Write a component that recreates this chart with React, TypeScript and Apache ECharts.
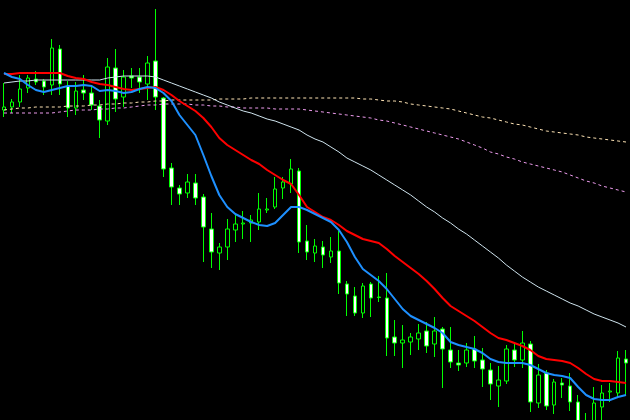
import React, { useEffect, useRef } from "react";
import * as echarts from "echarts";

// Bar labels (one per candle)
const categories: string[] = Array.from({ length: 79 }, (_, i) => `Bar ${i + 1}`);

// Candle values (price in points, e.g. 13310 = 1.3310)
const opens = [
  13310, 13313, 13318, 13332, 13341, 13339, 13335, 13371, 13334, 13312,
  13330, 13327, 13314, 13299, 13352, 13323, 13344, 13343, 13336, 13359,
  13322, 13252, 13232, 13227, 13237, 13223, 13191, 13167, 13173, 13190,
  13196, 13197, 13198, 13210, 13213, 13232, 13236, 13249, 13179, 13167,
  13173, 13163, 13169, 13136, 13124, 13107, 13136, 13123, 13122, 13083,
  13077, 13078, 13081, 13089, 13076, 13091, 13070, 13057, 13057, 13071,
  13060, 13050, 13034, 13039, 13070, 13060, 13076, 13017, 13047, 13015,
  13037, 13034, 13018, 12999, 12995, 13013, 13028, 13027, 13061,
];
const closes = [
  13313, 13318, 13331, 13342, 13338, 13333, 13372, 13336, 13312, 13329,
  13327, 13315, 13300, 13353, 13321, 13343, 13342, 13338, 13357, 13323,
  13251, 13233, 13226, 13238, 13222, 13193, 13168, 13173, 13191, 13196,
  13197, 13200, 13211, 13211, 13231, 13238, 13251, 13178, 13168, 13174,
  13165, 13169, 13137, 13126, 13107, 13134, 13122, 13122.5, 13082, 13077,
  13080, 13083, 13087, 13074, 13089, 13071, 13058, 13055, 13070, 13059,
  13051, 13036, 13040, 13071, 13060, 13077, 13018, 13045, 13014, 13038,
  13035, 13018, 12990, 12988, 13017, 13027, 13029, 13062, 13057,
];
const lows = [
  13303, 13307, 13313, 13327, 13335, 13325, 13325, 13325, 13303, 13305,
  13320, 13310, 13282, 13295, 13308, 13313, 13332, 13327, 13320, 13310,
  13243, 13215, 13215, 13222, 13215, 13158, 13152, 13150, 13160, 13178,
  13181, 13178, 13190, 13207, 13211, 13221, 13227, 13167, 13160, 13158,
  13152, 13157, 13126, 13104, 13104, 13102, 13103, 13118, 13064, 13064,
  13052, 13065, 13070, 13067, 13063, 13032, 13052, 13049, 13053, 13052,
  13033, 13020, 13013, 13036, 13053, 13052, 13008, 13012, 13010, 13006,
  13022, 13009, 12980, 12975, 12990, 12998, 13018, 13022, 13025,
];
const highs = [
  13337, 13321, 13345, 13345, 13349, 13341, 13381, 13375, 13339, 13338,
  13345, 13333, 13320, 13362, 13371, 13350, 13352, 13352, 13364, 13411,
  13323, 13257, 13235, 13246, 13246, 13226, 13207, 13177, 13201, 13205,
  13209, 13205, 13227, 13222, 13243, 13243, 13261, 13252, 13195, 13181,
  13179, 13183, 13189, 13139, 13133, 13137, 13138, 13144, 13147, 13100,
  13095, 13087, 13096, 13098, 13103, 13093, 13093, 13070, 13077, 13084,
  13072, 13057, 13054, 13075, 13078, 13089, 13079, 13056, 13050, 13041,
  13042, 13047, 13025, 13007, 13033, 13035, 13037, 13069, 13070,
];

// Moving averages
const maFast = [
  13347, 13343, 13341, 13335, 13330, 13328, 13330, 13332, 13334, 13334,
  13335, 13334, 13329, 13330, 13329, 13327, 13328, 13331, 13333, 13332,
  13327, 13319, 13305, 13295, 13285, 13265, 13244, 13225, 13213, 13206,
  13202, 13198, 13195, 13194, 13197, 13205, 13213, 13213, 13210, 13206,
  13202, 13198, 13190, 13178, 13163, 13151, 13145, 13139, 13131, 13121,
  13111, 13104, 13100, 13096, 13092, 13087, 13078, 13075, 13073, 13071,
  13067, 13061, 13058, 13057, 13057, 13057, 13055, 13051, 13047, 13045,
  13044, 13042, 13033, 13025, 13021, 13020, 13020, 13023, 13025,
];
const maMid = [
  13346, 13346, 13347, 13347, 13347, 13347, 13347, 13347, 13344, 13342,
  13341, 13338, 13336, 13335, 13333, 13331, 13330, 13331, 13332, 13333,
  13330, 13325, 13319, 13314, 13309, 13302, 13293, 13282, 13275, 13270,
  13265, 13260, 13256, 13250, 13245, 13240, 13236, 13225, 13213, 13208,
  13203, 13200, 13195, 13189, 13185, 13181, 13179, 13177, 13171, 13164,
  13158, 13152, 13146, 13139, 13131, 13122, 13114, 13109, 13104, 13099,
  13093, 13087, 13082, 13080, 13077, 13074, 13070, 13064, 13061, 13060,
  13059, 13057, 13052, 13046, 13041, 13039, 13039, 13038, 13037,
];
const maSlow = [
  13337, 13338, 13339, 13339, 13340, 13340, 13340, 13340, 13340, 13340,
  13340, 13340, 13340, 13342, 13343, 13344, 13344, 13344, 13344, 13343,
  13340, 13337, 13334, 13331, 13328, 13325, 13322, 13318, 13315, 13312,
  13309, 13307, 13304, 13301, 13299, 13296, 13293, 13290, 13285, 13281,
  13278, 13273, 13268, 13262, 13258, 13254, 13250, 13245, 13240, 13235,
  13230, 13225, 13219, 13213, 13208, 13202, 13197, 13191, 13186, 13180,
  13174, 13168, 13162, 13155, 13149, 13143, 13138, 13133, 13129, 13125,
  13121, 13117, 13114, 13110, 13106, 13103, 13100, 13097, 13093,
];
const maLongA = [
  13310, 13311, 13312, 13312, 13313, 13313, 13313, 13313, 13314, 13314,
  13314, 13315, 13315, 13316, 13316, 13317, 13317, 13318, 13318, 13319,
  13319, 13320, 13320, 13320, 13320, 13320, 13320, 13321, 13321, 13321,
  13321, 13322, 13322, 13322, 13322, 13322, 13322, 13322, 13322, 13322,
  13322, 13322, 13322, 13322, 13322, 13321, 13321, 13320, 13319, 13319,
  13318, 13316, 13315, 13314, 13313, 13312, 13311, 13309, 13307, 13305,
  13303, 13302, 13300, 13298, 13296, 13295, 13293, 13291, 13289, 13288,
  13287, 13286, 13285, 13283, 13282, 13281, 13280, 13279, 13278,
];
const maLongB = [
  13307, 13307, 13307, 13307, 13307, 13307, 13307, 13308, 13309, 13310,
  13310, 13310, 13311, 13311, 13312, 13312, 13313, 13314, 13315, 13315,
  13316, 13316, 13316, 13316, 13315, 13315, 13314, 13314, 13313, 13313,
  13312, 13312, 13312, 13312, 13311, 13311, 13311, 13311, 13310, 13309,
  13308, 13307, 13306, 13305, 13304, 13303, 13302, 13300, 13299, 13297,
  13295, 13293, 13291, 13289, 13287, 13285, 13283, 13281, 13278, 13275,
  13272, 13268, 13266, 13263, 13261, 13258, 13256, 13254, 13252, 13250,
  13248, 13245, 13242, 13239, 13237, 13234, 13232, 13230, 13228,
];

export default function App() {
  const ref = useRef<HTMLDivElement>(null);

  useEffect(() => {
    if (!ref.current) return;
    const chart = echarts.init(ref.current, undefined, { renderer: "svg" });
    const candles = opens.map((o, i) => [o, closes[i], lows[i], highs[i]]);
    const line = (name: string, data: number[], color: string, width: number, type: any) => ({
      name,
      type: "line",
      data,
      symbol: "none",
      showSymbol: false,
      silent: true,
      lineStyle: { color, width, type },
      z: 3,
    });
    chart.setOption({
      animation: false,
      backgroundColor: "#000000",
      grid: { left: -2, right: 0, top: 0, bottom: 0, containLabel: false },
      xAxis: {
        type: "category",
        data: categories,
        boundaryGap: true,
        show: false,
      },
      yAxis: {
        type: "value",
        min: 13000,
        max: 13420,
        show: false,
        splitLine: { show: false },
      },
      series: [
        {
          name: "Price",
          type: "candlestick",
          data: candles,
          barWidth: 4,
          silent: true,
          z: 2,
          itemStyle: {
            color: "#000000",
            color0: "#ffffff",
            borderColor: "#00ff00",
            borderColor0: "#00ff00",
            borderWidth: 1,
          },
        },
        line("MA long A", maLongA, "#ffe4b5", 1, [3, 3]),
        line("MA long B", maLongB, "#ee9cee", 1, [3, 3]),
        line("MA slow", maSlow, "#cfe4ee", 1, "solid"),
        line("MA mid", maMid, "#ff0000", 2, "solid"),
        line("MA fast", maFast, "#1e90ff", 2, "solid"),
      ],
    });
    return () => chart.dispose();
  }, []);

  return (
    <div
      ref={ref}
      style={{ position: "fixed", left: 0, top: 0, width: 630, height: 420, background: "#000" }}
    />
  );
}
